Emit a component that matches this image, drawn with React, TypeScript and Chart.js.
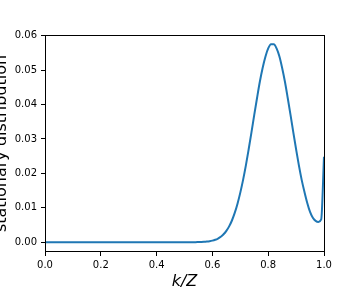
import { useEffect, useRef } from "react";
import { Chart, registerables } from "chart.js";

Chart.register(...registerables);

const Z = 100;

// stationary distribution value for k = 0..Z
const stationary: number[] = [
  0, 0, 0, 0, 0, 0, 0, 0, 0, 0,
  0, 0, 0, 0, 0, 0, 0, 0, 0, 0,
  0, 0, 0, 0, 0, 0, 0, 0, 0, 0,
  0, 0, 0, 0, 0, 0, 0, 0, 0, 0,
  0, 0, 0, 0, 0, 0, 0, 0, 0, 0,
  0, 0, 0, 0, 0, 0.00004, 0.00006, 0.0001, 0.00017, 0.00028,
  0.00045, 0.0007, 0.00107, 0.00159, 0.0023, 0.0033, 0.0046, 0.0063, 0.0085, 0.0112,
  0.0144, 0.0181, 0.0223, 0.027, 0.0319, 0.037, 0.0419, 0.0466, 0.0506, 0.0539,
  0.0563, 0.0575, 0.0575, 0.0563, 0.054, 0.0506, 0.0466, 0.0419, 0.037, 0.0319,
  0.027, 0.0223, 0.0181, 0.0146, 0.0114, 0.0088, 0.0071, 0.0062, 0.0059, 0.0066,
  0.0248,
];

const kValues: number[] = stationary.map((_, k) => k);

const xTicks: number[] = [0, 0.2, 0.4, 0.6, 0.8, 1.0];
const yTicks: number[] = [0, 0.01, 0.02, 0.03, 0.04, 0.05, 0.06];
const xLabel = "k/Z";
const yLabel = "stationary distribution";

export default function App() {
  const ref = useRef<HTMLCanvasElement>(null);

  useEffect(() => {
    if (!ref.current) return;

    const framePlugin = {
      id: "frameAndTitles",
      afterDatasetsDraw(chart: any) {
        const { ctx, chartArea: a } = chart;
        ctx.save();
        ctx.strokeStyle = "#000";
        ctx.lineWidth = 1;
        const l = Math.round(a.left) + 0.5;
        const r = Math.round(a.right) + 0.5;
        const t = Math.round(a.top) + 0.5;
        const b = Math.round(a.bottom) - 0.5;
        ctx.strokeRect(l, t, r - l, b - t);
        ctx.restore();
      },
      afterDraw(chart: any) {
        const { ctx, chartArea: a } = chart;
        ctx.save();
        ctx.fillStyle = "#000";
        ctx.font = '16px "DejaVu Sans"';
        ctx.textAlign = "center";
        ctx.textBaseline = "alphabetic";
        ctx.translate(6, (a.top + a.bottom) / 2);
        ctx.rotate(-Math.PI / 2);
        ctx.fillText(yLabel, 0, 0);
        ctx.restore();

        ctx.save();
        ctx.fillStyle = "#000";
        ctx.font = 'italic 16px "DejaVu Sans"';
        ctx.textAlign = "center";
        ctx.textBaseline = "alphabetic";
        ctx.fillText(xLabel, (a.left + a.right) / 2, 286);
        ctx.restore();
      },
    };

    const chart = new Chart(ref.current, {
      type: "line",
      data: {
        datasets: [
          {
            data: kValues.map((k, i) => ({ x: k / Z, y: stationary[i] })),
            borderColor: "#1f77b4",
            borderWidth: 2,
            pointRadius: 0,
            fill: false,
            cubicInterpolationMode: "monotone",
          },
        ],
      },
      options: {
        responsive: false,
        animation: false,
        layout: { padding: { left: 0, top: 35, right: 36, bottom: 0 } },
        plugins: {
          legend: { display: false },
          tooltip: { enabled: false },
          title: { display: false },
        },
        scales: {
          x: {
            type: "linear",
            min: 0,
            max: 1,
            afterBuildTicks: (s: any) => {
              s.ticks = xTicks.map((v) => ({ value: v }));
            },
            afterFit: (s: any) => {
              s.height = 36;
            },
            grid: {
              display: true,
              drawOnChartArea: false,
              drawTicks: true,
              tickLength: 4,
              color: "#000",
              lineWidth: 1,
            },
            border: { display: false },
            ticks: {
              color: "#000",
              font: { family: "DejaVu Sans", size: 10 },
              padding: 3,
              maxRotation: 0,
              autoSkip: false,
              callback: (v: any) => Number(v).toFixed(1),
            },
          },
          y: {
            type: "linear",
            min: -0.00285,
            max: 0.0602,
            afterBuildTicks: (s: any) => {
              s.ticks = yTicks.map((v) => ({ value: v }));
            },
            afterFit: (s: any) => {
              s.width = 45;
            },
            grid: {
              display: true,
              drawOnChartArea: false,
              drawTicks: true,
              tickLength: 4,
              color: "#000",
              lineWidth: 1,
            },
            border: { display: false },
            ticks: {
              color: "#000",
              font: { family: "DejaVu Sans", size: 10 },
              padding: 4,
              autoSkip: false,
              callback: (v: any) => Number(v).toFixed(2),
            },
          },
        },
      },
      plugins: [framePlugin],
    } as any);

    return () => chart.destroy();
  }, []);

  return (
    <div
      style={{
        position: "fixed",
        left: 0,
        top: 0,
        width: 360,
        height: 288,
        background: "#fff",
      }}
    >
      <canvas ref={ref} width={360} height={288} style={{ display: "block" }} />
    </div>
  );
}
